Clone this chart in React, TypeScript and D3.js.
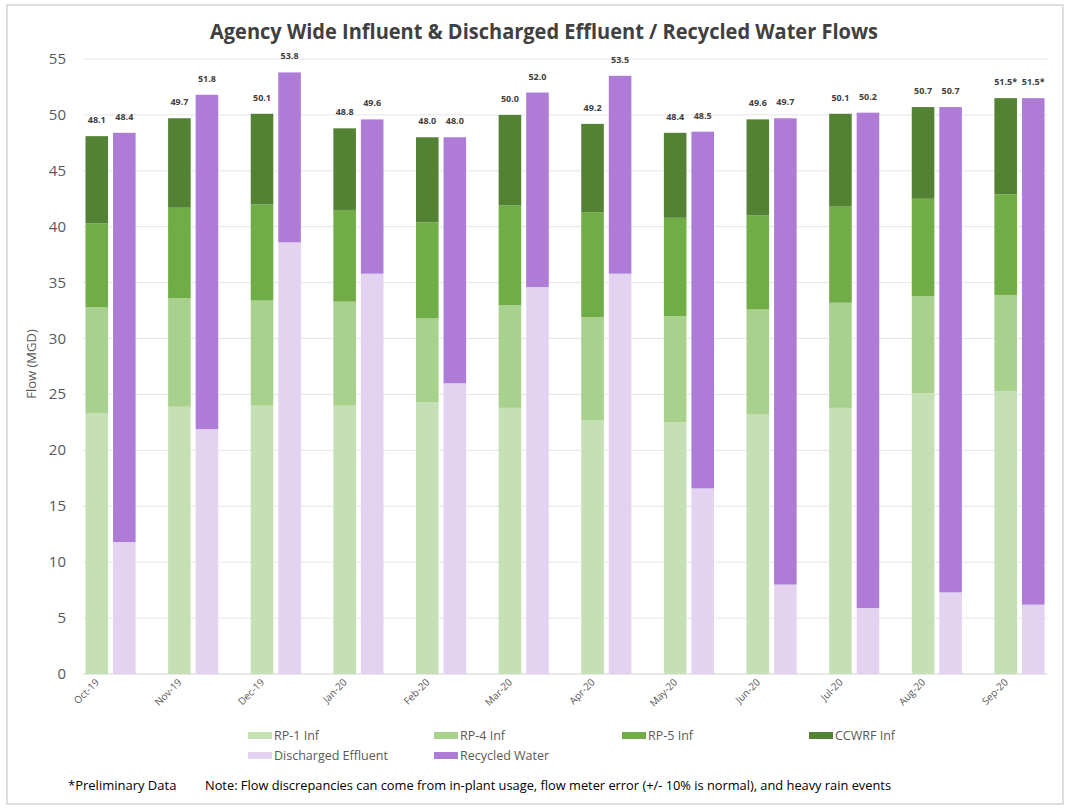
import React from "react";
import * as d3 from "d3";

const months = ["Oct-19","Nov-19","Dec-19","Jan-20","Feb-20","Mar-20","Apr-20","May-20","Jun-20","Jul-20","Aug-20","Sep-20"];
const rp1 = [23.3,23.9,24.0,24.0,24.3,23.8,22.7,22.5,23.2,23.8,25.1,25.3];
const rp4 = [9.5,9.7,9.4,9.3,7.5,9.2,9.2,9.5,9.4,9.4,8.7,8.6];
const rp5 = [7.5,8.1,8.6,8.2,8.6,8.9,9.4,8.8,8.4,8.6,8.7,9.0];
const ccwrf = [7.8,8.0,8.1,7.3,7.6,8.1,7.9,7.6,8.6,8.3,8.2,8.6];
const discharged = [11.8,21.9,38.6,35.8,26.0,34.6,35.8,16.6,8.0,5.9,7.3,6.2];
const recycled = [36.6,29.9,15.2,13.8,22.0,17.4,17.7,31.9,41.7,44.3,43.4,45.3];
const influentLabels = ["48.1","49.7","50.1","48.8","48.0","50.0","49.2","48.4","49.6","50.1","50.7","51.5*"];
const effluentLabels = ["48.4","51.8","53.8","49.6","48.0","52.0","53.5","48.5","49.7","50.2","50.7","51.5*"];
const yTicks = [0,5,10,15,20,25,30,35,40,45,50,55];

const influentSeries = [
  { name: "RP-1 Inf", values: rp1, color: "#c5e0b4" },
  { name: "RP-4 Inf", values: rp4, color: "#a9d18e" },
  { name: "RP-5 Inf", values: rp5, color: "#70ad47" },
  { name: "CCWRF Inf", values: ccwrf, color: "#548235" },
];
const effluentSeries = [
  { name: "Discharged Effluent", values: discharged, color: "#e3d3f0" },
  { name: "Recycled Water", values: recycled, color: "#ae7cd6" },
];

const FONT = "'Open Sans', sans-serif";

export default function App() {
  const W = 1069, H = 809;
  const left = 83, right = 1047, top = 59, bottom = 674;
  const slots = d3.range(35).map(String);
  const x = d3.scaleBand().domain(slots).range([left, right]).paddingInner(0.18).paddingOuter(0.09);
  const y = d3.scaleLinear().domain([0, 55]).range([bottom, top]);
  const bw = x.bandwidth();

  const rects: any[] = [];
  const labels: any[] = [];
  months.forEach((m, i) => {
    const gx = x(String(i * 3))!;
    const px = x(String(i * 3 + 1))!;
    let acc = 0;
    influentSeries.forEach((s) => {
      const v = s.values[i];
      rects.push(<rect key={`g${i}${s.name}`} x={gx} width={bw} y={y(acc + v)} height={y(acc) - y(acc + v)} fill={s.color} />);
      acc += v;
    });
    labels.push(<text key={`gl${i}`} x={gx + bw / 2} y={y(acc) - 13} textAnchor="middle" fontSize={9} fontWeight="bold" fill="#404040">{influentLabels[i]}</text>);
    let acc2 = 0;
    effluentSeries.forEach((s) => {
      const v = s.values[i];
      rects.push(<rect key={`p${i}${s.name}`} x={px} width={bw} y={y(acc2 + v)} height={y(acc2) - y(acc2 + v)} fill={s.color} />);
      acc2 += v;
    });
    labels.push(<text key={`pl${i}`} x={px + bw / 2} y={y(acc2) - 13} textAnchor="middle" fontSize={9} fontWeight="bold" fill="#404040">{effluentLabels[i]}</text>);
  });

  const legendItems = [
    { s: influentSeries[0], x: 248, y: 736 },
    { s: influentSeries[1], x: 434, y: 736 },
    { s: influentSeries[2], x: 622, y: 736 },
    { s: influentSeries[3], x: 809, y: 736 },
    { s: effluentSeries[0], x: 248, y: 756 },
    { s: effluentSeries[1], x: 434, y: 756 },
  ];

  return (
    <svg width={W} height={H} style={{ position: "absolute", left: 0, top: 0, background: "#fff" }} fontFamily={FONT}>
      <rect x={7} y={5} width={1056} height={799} fill="#fff" stroke="#bfbfbf" strokeWidth={1} />
      <text x={544} y={39} textAnchor="middle" fontSize={21} fontWeight="bold" fill="#404040" textLength={668} lengthAdjust="spacingAndGlyphs">Agency Wide Influent &amp; Discharged Effluent / Recycled Water Flows</text>
      {yTicks.map((t) => (
        <g key={t}>
          <line x1={left} x2={right} y1={y(t)} y2={y(t)} stroke={t === 0 ? "#d0d0d0" : "#e6e6e6"} strokeWidth={1} />
          <text x={66} y={y(t) + 5} textAnchor="end" fontSize={15} fill="#595959">{t}</text>
        </g>
      ))}
      <text transform={`translate(36,364) rotate(-90)`} textAnchor="middle" fontSize={13} fill="#595959">Flow (MGD)</text>
      {rects}
      {labels}
      {months.map((m, i) => {
        const cx = x(String(i * 3))! + bw / 2 + 3;
        return (
          <text key={m} transform={`translate(${cx},${683}) rotate(-45)`} textAnchor="end" fontSize={10} fill="#595959">{m}</text>
        );
      })}
      {legendItems.map((l) => (
        <g key={l.s.name}>
          <rect x={l.x} y={l.y - 4} width={24} height={7} fill={l.s.color} />
          <text x={l.x + 26} y={l.y + 4} fontSize={12.5} fill="#595959">{l.s.name}</text>
        </g>
      ))}
      <text x={68} y={790} fontSize={13} fill="#000">*Preliminary Data</text>
      <text x={205} y={790} fontSize={13} fill="#000" textLength={686} lengthAdjust="spacingAndGlyphs">Note: Flow discrepancies  can come from in-plant usage, flow meter error (+/- 10% is normal), and heavy rain events</text>
    </svg>
  );
}
